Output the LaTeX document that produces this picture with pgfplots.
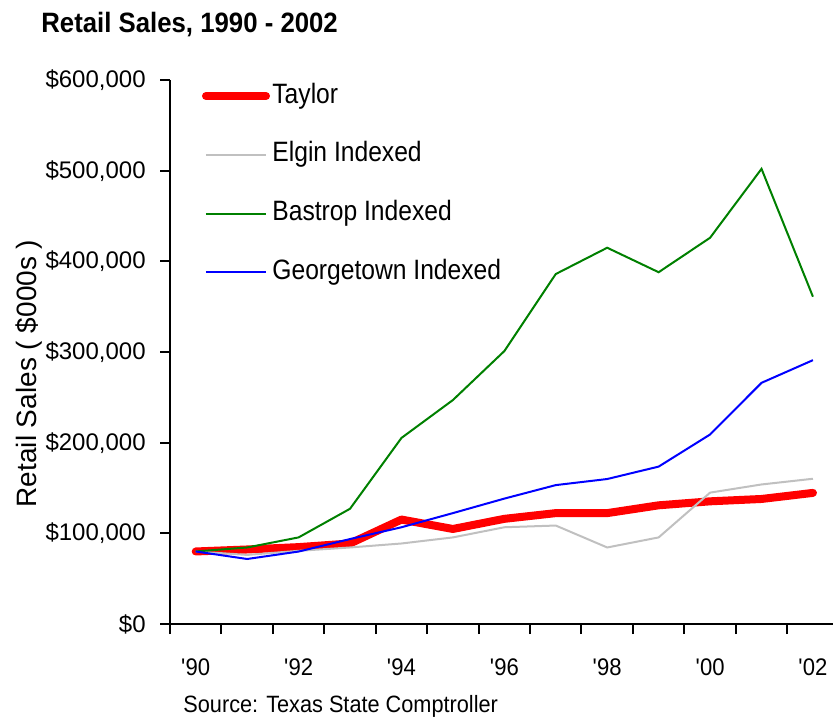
\documentclass[border=0pt]{standalone}
\usepackage{pgfplots}
\pgfplotsset{compat=1.18}
\usepackage{fontspec}
\setmainfont{Liberation Sans}
\newfontfamily\narrowfont[FakeStretch=0.92]{Liberation Sans}
\newfontfamily\legfont[FakeStretch=0.88]{Liberation Sans}
\definecolor{tred}{RGB}{255,0,0}
\definecolor{egray}{RGB}{192,192,192}
\definecolor{bgreen}{RGB}{0,128,0}
\definecolor{gblue}{RGB}{0,0,255}
\pgfplotstableread{
year taylor elgin bastrop georgetown
1990 80000 80000 80000 80000
1991 82200 76200 84400 71700
1992 84800 80700 95500 79900
1993 88800 84400 127100 93700
1994 115200 88800 205200 106700
1995 104800 95500 247000 122300
1996 116000 106700 301000 138300
1997 122300 108600 386000 153200
1998 122300 84400 415000 159900
1999 130900 95500 388000 173600
2000 135300 144900 426000 209000
2001 137900 153900 502000 266000
2002 144600 160200 361000 291000
}\salesdata
\begin{document}
\begin{tikzpicture}
\begin{axis}[
  scale only axis,
  width=331.5pt, height=272pt,
  xmin=1989.5, xmax=2002.39,
  ymin=0, ymax=600000,
  axis lines*=left,
  axis line style={black, line width=1pt},
  tick align=outside,
  tick style={black, line width=1pt},
  major tick length=5pt,
  minor tick length=5pt,
  xtick={1990,1992,1994,1996,1998,2000,2002},
  xticklabels={\textquotesingle90,\textquotesingle92,\textquotesingle94,\textquotesingle96,\textquotesingle98,\textquotesingle00,\textquotesingle02},
  major x tick style={draw=none},
  minor xtick={1989.5,1990.5,1991.5,1992.5,1993.5,1994.5,1995.5,1996.5,1997.5,1998.5,1999.5,2000.5,2001.5},
  ytick={0,100000,200000,300000,400000,500000,600000},
  yticklabels={{\$0},{\$100,000},{\$200,000},{\$300,000},{\$400,000},{\$500,000},{\$600,000}},
  scaled y ticks=false,
  xticklabel style={font=\narrowfont\fontsize{12}{14}\selectfont, anchor=base, yshift=-20.5pt, inner sep=0pt},
  yticklabel style={font=\fontsize{12}{14}\selectfont, anchor=east, inner sep=0pt, xshift=-7pt},
  legend image code/.code={\draw[#1] (0pt,0pt) -- (30pt,0pt);},
  legend cell align=left,
  legend style={draw=none, fill=none, at={(rel axis cs:0,1)}, anchor=north west,
    xshift=16pt, yshift=-1.5pt, inner sep=0pt, outer sep=0pt, row sep=16.4pt,
    font=\legfont\fontsize{14}{16}\selectfont,
    nodes={inner sep=0pt, text height=10pt, text depth=3pt},
    /tikz/every odd column/.append style={column sep=1.2pt}},
]
\addplot[tred, line width=4pt, line cap=round, line join=round] table[x=year, y=taylor] {\salesdata};
\addlegendentry{Taylor}
\addplot[egray, line width=1pt] table[x=year, y=elgin] {\salesdata};
\addlegendentry{Elgin Indexed}
\addplot[bgreen, line width=1pt] table[x=year, y=bastrop] {\salesdata};
\addlegendentry{Bastrop Indexed}
\addplot[gblue, line width=1pt] table[x=year, y=georgetown] {\salesdata};
\addlegendentry{Georgetown Indexed}
\end{axis}
\node[anchor=base west, font=\narrowfont\bfseries\fontsize{14}{16}\selectfont, inner sep=0pt] at (-64.5pt,295.5pt) {Retail Sales, 1990 - 2002};
\node[rotate=90, anchor=base, font=\fontsize{14}{16}\selectfont, inner sep=0pt] at (-66.5pt,125.25pt) {Retail Sales ( \$000s )};
\node[anchor=base west, font=\narrowfont\fontsize{11.8}{14}\selectfont, inner sep=0pt] at (6.5pt,-44pt) {Source: Texas State Comptroller};
\pgfresetboundingbox
\path[use as bounding box] (-85pt,-46pt) rectangle (331.5pt,312pt);
\end{tikzpicture}
\end{document}
